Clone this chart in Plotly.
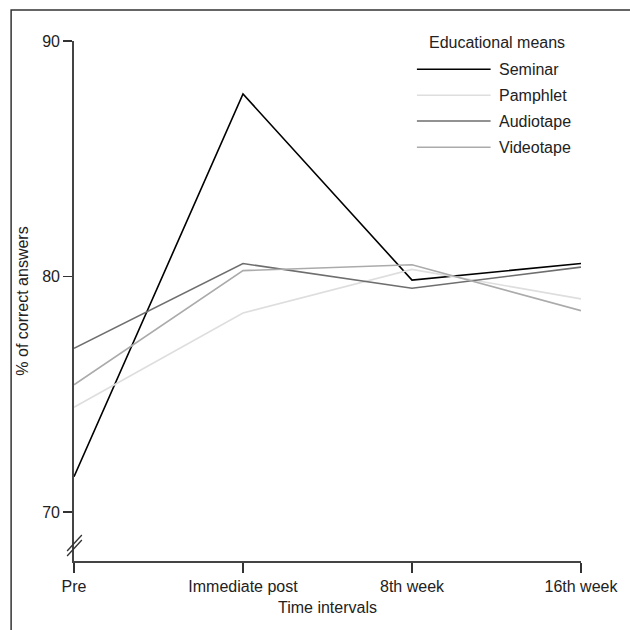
import plotly.graph_objects as go

# ---- data ----
categories = ["Pre", "Immediate post", "8th week", "16th week"]
series_names = ["Seminar", "Pamphlet", "Audiotape", "Videotape"]
seminar = [71.5, 87.75, 79.85, 80.55]
pamphlet = [74.45, 78.45, 80.3, 79.05]
audiotape = [76.95, 80.55, 79.5, 80.4]
videotape = [75.4, 80.25, 80.5, 78.55]
y_ticks = [70, 80, 90]

values = [seminar, pamphlet, audiotape, videotape]
colors = ["#000000", "#dedede", "#6e6e6e", "#ababab"]

FONT = "Liberation Sans, Arial, Helvetica, sans-serif"
W, H = 630, 630
ML, MR, MT, MB = 74, 40, 41, 69
PW, PH = W - ML - MR, H - MT - MB

def px(x):
    return (x - ML) / PW

def py(y):
    return (H - MB - y) / PH

xs = list(range(len(categories)))

fig = go.Figure()
for name, vals, col in zip(series_names, values, colors):
    fig.add_trace(go.Scatter(x=xs, y=vals, mode="lines", name=name,
                             line=dict(color=col, width=1.6), showlegend=False,
                             hoverinfo="skip"))

shapes = []
annotations = []

# outer frame (runs off the right and bottom edges)
shapes.append(dict(type="rect", xref="paper", yref="paper",
                   x0=px(10), x1=px(700), y0=py(700), y1=py(10),
                   line=dict(color="#333333", width=1.5), layer="below"))

# axis break marks
for off in (0, 5):
    shapes.append(dict(type="line", xref="paper", yref="paper",
                       x0=px(67), x1=px(82), y0=py(556 - off), y1=py(540 - off),
                       line=dict(color="#333333", width=1.3)))

# manual legend
annotations.append(dict(xref="paper", yref="paper", x=px(505), y=py(43),
                        text="Educational means", showarrow=False,
                        xanchor="center", yanchor="middle",
                        font=dict(size=16, color="#222222", family=FONT)))
legend_y = [69.3, 95.3, 121, 147.3]
for name, col, ly in zip(series_names, colors, legend_y):
    shapes.append(dict(type="line", xref="paper", yref="paper",
                       x0=px(423), x1=px(498), y0=py(ly), y1=py(ly),
                       line=dict(color=col, width=1.6)))
    annotations.append(dict(xref="paper", yref="paper", x=px(505), y=py(ly),
                            text=name, showarrow=False,
                            xanchor="left", yanchor="middle",
                            font=dict(size=16, color="#222222", family=FONT)))

fig.update_layout(
    width=W, height=H,
    margin=dict(l=ML, r=MR, t=MT, b=MB, pad=0),
    paper_bgcolor="white", plot_bgcolor="white",
    font=dict(family=FONT, size=16, color="#222222"),
    shapes=shapes, annotations=annotations,
    showlegend=False,
)
fig.update_xaxes(
    range=[0, 3], tickvals=xs, ticktext=categories,
    showline=True, linecolor="#444444", linewidth=1.8,
    ticks="outside", ticklen=10, tickwidth=1.3, tickcolor="#333333",
    showgrid=False, zeroline=False,
    title=dict(text="Time intervals", standoff=8, font=dict(size=16)),
    tickfont=dict(size=16),
)
fig.update_yaxes(
    range=[67.92, 90], tickvals=y_ticks,
    showline=True, linecolor="#444444", linewidth=1.8,
    ticks="outside", ticklen=9, tickwidth=1.3, tickcolor="#333333",
    showgrid=False, zeroline=False,
    title=dict(text="% of correct answers", standoff=10, font=dict(size=16)),
    tickfont=dict(size=16),
)

fig.write_html(
    "out.html",
    config={"displayModeBar": False, "staticPlot": True},
    post_script=("document.documentElement.style.overflow='hidden';"
                 "document.body.style.margin='0';"
                 "document.body.style.overflow='hidden';"),
)
